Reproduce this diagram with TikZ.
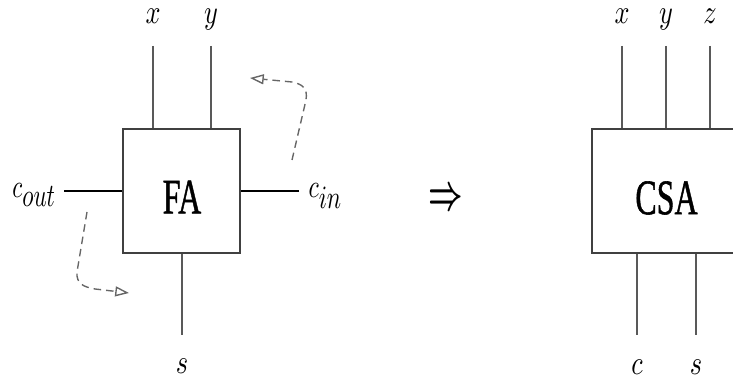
\documentclass[tikz,border=0pt]{standalone}
\usepackage{fontspec}
\newfontfamily\tnr{Liberation Serif}[FakeBold=1.2]
\usetikzlibrary{arrows.meta}
\newcommand{\mlab}[3]{\scalebox{#1}[#2]{$#3$}}
\newcommand{\boxtxt}[1]{\scalebox{1}[1.55]{\tnr\fontsize{12.8}{15}\selectfont #1}}
\begin{document}
\begin{tikzpicture}[x=0.4pt,y=-0.4pt,
  blk/.style={draw=black!75, line width=0.55pt, inner sep=0pt, minimum height=49.6pt},
  wire/.style={draw=black!65, line width=0.55pt},
  hwire/.style={draw=black, line width=0.55pt},
  lab/.style={inner sep=0pt, anchor=base},
  bigtxt/.style={inner sep=0pt, anchor=center},
  fb/.style={draw=black!60, line width=0.55pt, dash pattern=on 3pt off 2pt,
    -{Triangle[open,length=5.5pt,width=4pt]}}]
\clip (0,0) rectangle (733,378);
% FA
\node[blk, minimum width=46.8pt] (fa) at (181.5,191) {};
\node[bigtxt] (fatxt) at (182,197) {\boxtxt{FA}};
\coordinate (fx) at (153,46);
\coordinate (fy) at (211,46);
\coordinate (fs) at (182,335);
\coordinate (fco) at (64,191);
\coordinate (fci) at (299,191);
\draw[wire] (fx) -- (fx |- fa.north);
\draw[wire] (fy) -- (fy |- fa.north);
\draw[wire] (fs) -- (fs |- fa.south);
\draw[hwire] (fco) -- (fa.west);
\draw[hwire] (fci) -- (fa.east);
\node[lab] (lfx) at (153,24) {\mlab{1.05}{1.35}{x}};
\node[lab] (lfy) at (211,24) {\mlab{1.05}{1.35}{y}};
\node[lab] (lfs) at (182,374) {\mlab{1.05}{1.35}{s}};
\node[lab, anchor=base west] (lco) at (12,198) {\mlab{0.92}{1.3}{c_{\mbox{$out$}}}};
\node[lab, anchor=base west] (lci) at (308,198) {\mlab{0.95}{1.3}{c_{\mbox{$in$}}}};
% feedback arrows
\coordinate (a1) at (292,160);
\coordinate (a1e) at (250,78);
\draw[fb] (a1) -- (306,100) .. controls (308,88) and (302,84) .. (292,82) -- (a1e);
\coordinate (a2) at (87,212);
\coordinate (a2e) at (129,293);
\draw[fb] (a2) -- (77,272) .. controls (76,284) and (84,287) .. (95,289) -- (a2e);
% implies
\node[bigtxt] (imp) at (446,200) {\scalebox{1.2}[2]{\boldmath$\Rightarrow$}};
% CSA
\node[blk, minimum width=59.2pt] (csa) at (666,191) {};
\node[bigtxt] (csatxt) at (666.5,198) {\boxtxt{CSA}};
\coordinate (cx) at (622,46);
\coordinate (cy) at (666,46);
\coordinate (cz) at (710,46);
\coordinate (cc) at (637,335);
\coordinate (cs) at (696,335);
\draw[wire] (cx) -- (cx |- csa.north);
\draw[wire] (cy) -- (cy |- csa.north);
\draw[wire] (cz) -- (cz |- csa.north);
\draw[wire] (cc) -- (cc |- csa.south);
\draw[wire] (cs) -- (cs |- csa.south);
\node[lab] (lcx) at (622,24) {\mlab{1.05}{1.35}{x}};
\node[lab] (lcy) at (666,24) {\mlab{1.05}{1.35}{y}};
\node[lab] (lcz) at (710,24) {\mlab{1.05}{1.35}{z}};
\node[lab] (lcc) at (637,375) {\mlab{1.05}{1.35}{c}};
\node[lab] (lcs) at (696,375) {\mlab{1.05}{1.35}{s}};
\end{tikzpicture}
\end{document}
